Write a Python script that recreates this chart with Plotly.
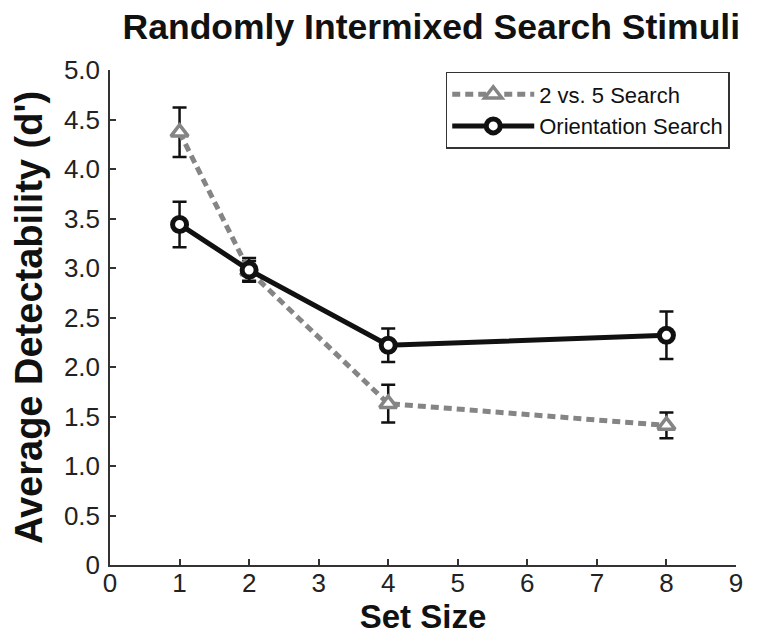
import plotly.graph_objects as go

set_size = [1, 2, 4, 8]
search_25 = [4.37, 2.97, 1.63, 1.41]
search_25_err = [0.25, 0.10, 0.19, 0.13]
orient = [3.44, 2.98, 2.22, 2.32]
orient_err = [0.23, 0.12, 0.17, 0.24]

y_tickvals = [0, 0.5, 1, 1.5, 2, 2.5, 3, 3.5, 4, 4.5, 5]
y_ticktext = ["0", "0.5", "1.0", "1.5", "2.0", "2.5", "3.0", "3.5", "4.0", "4.5", "5.0"]
x_tickvals = list(range(0, 10))

FONT = "Liberation Sans, Arial, Helvetica, sans-serif"
GREY = "#858585"

fig = go.Figure()
fig.add_trace(go.Scatter(
    x=set_size, y=search_25, name="2 vs. 5 Search", mode="lines+markers",
    line=dict(color=GREY, width=5, dash="8px,5px"),
    marker=dict(symbol="triangle-up", size=15, color="white",
                line=dict(color=GREY, width=3.5)),
    error_y=dict(type="data", array=search_25_err, color="#111111", thickness=2.5, width=7),
))
fig.add_trace(go.Scatter(
    x=set_size, y=orient, name="Orientation Search", mode="lines+markers",
    line=dict(color="#111111", width=5),
    marker=dict(symbol="circle", size=14, color="white",
                line=dict(color="#111111", width=5)),
    error_y=dict(type="data", array=orient_err, color="#111111", thickness=2.5, width=7),
))

axis_common = dict(
    showline=True, linecolor="#333333", linewidth=1.5, mirror=False,
    ticks="inside", ticklen=6, tickwidth=1.5, tickcolor="#333333",
    showgrid=False, zeroline=False, automargin=False,
    tickfont=dict(family=FONT, size=26, color="#222222"),
)

# the page body adds an 8px offset, so the figure is sized to fit the window
fig.update_layout(
    width=756, height=633,
    margin=dict(l=102, r=28, t=62, b=76),
    paper_bgcolor="white", plot_bgcolor="white",
    title=dict(text="<b>Randomly Intermixed Search Stimuli</b>",
               x=0.560, xanchor="center", y=0.971, yanchor="middle",
               font=dict(family=FONT, size=35.5, color="#111111"), automargin=False),
    xaxis=dict(range=[0, 9], tickvals=x_tickvals, ticklabelstandoff=-6,
               title=dict(text="<b>Set Size</b>", font=dict(family=FONT, size=33, color="#111111"), standoff=2),
               **axis_common),
    yaxis=dict(range=[0, 5], tickvals=y_tickvals, ticktext=y_ticktext, ticklabelstandoff=3,
               title=dict(text="<b>Average Detectability (d')</b>", font=dict(family=FONT, size=38, color="#111111"), standoff=22),
               **axis_common),
    legend=dict(x=0.99, xanchor="right", y=0.996, yanchor="top",
                bordercolor="#333333", borderwidth=1.5, bgcolor="white",
                font=dict(family=FONT, size=22, color="#111111"),
                itemwidth=82, tracegroupgap=0),
    showlegend=True,
)

fig.write_html("out.html")
